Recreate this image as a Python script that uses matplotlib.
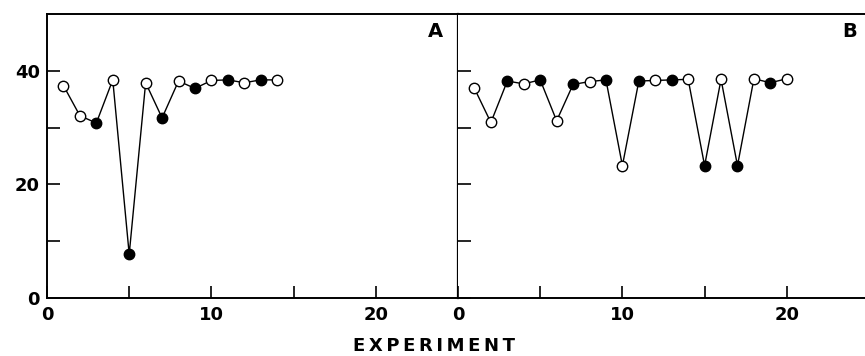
import numpy as np
import matplotlib.pyplot as plt

plt.rcParams['font.family'] = ['DejaVu Sans']
plt.rcParams['font.weight'] = 'bold'

# panel A
expA = np.arange(1, 15)
valA = [37.4, 32.1, 30.8, 38.4, 7.7, 37.9, 31.7, 38.2, 36.9, 38.3, 38.4, 37.9, 38.4, 38.4]
fillA = [0, 0, 1, 0, 1, 0, 1, 0, 1, 0, 1, 0, 1, 0]

# panel B
expB = np.arange(1, 21)
valB = [36.9, 30.9, 38.2, 37.7, 38.4, 31.2, 37.6, 38.1, 38.4, 23.3,
        38.2, 38.3, 38.4, 38.5, 23.3, 38.5, 23.3, 38.6, 37.9, 38.6]
fillB = [0, 0, 1, 0, 1, 0, 1, 0, 1, 0, 1, 0, 1, 0, 1, 0, 1, 0, 1, 0]

W, H = 865, 356
fig = plt.figure(figsize=(W / 100, H / 100), dpi=100)
axA = fig.add_axes([47 / W, 1 - 298 / H, 411 / W, 284 / H])
axB = fig.add_axes([458 / W, 1 - 298 / H, 411 / W, 284 / H])

def draw(ax, x, y, filled, letter, lx):
    ax.plot(x, y, color='black', lw=1.0, zorder=1)
    x = np.asarray(x)
    y = np.asarray(y)
    f = np.asarray(filled) == 1
    ax.plot(x[~f], y[~f], 'o', ms=7.5, mfc='white', mec='black', mew=1.0, zorder=2)
    ax.plot(x[f], y[f], 'o', ms=7.5, mfc='black', mec='black', mew=1.0, zorder=2)
    ax.set_xlim(0, 25)
    ax.set_ylim(0, 50)
    ax.set_xticks([0, 5, 10, 15, 20])
    ax.set_xticklabels(['0', '', '10', '', '20'])
    ax.set_yticks([0, 10, 20, 30, 40])
    ax.tick_params(direction='in', length=9, width=1.2, labelsize=13)
    ax.tick_params(axis='x', pad=6)
    for s in ax.spines.values():
        s.set_linewidth(1.4)
    ax.text(lx, 0.94, letter, transform=ax.transAxes, fontsize=14,
            fontweight='bold', ha='center', va='center')

draw(axA, expA, valA, fillA, 'A', 0.944)
axA.set_yticklabels(['0', '', '20', '', '40'])
axA.tick_params(axis='y', pad=5)
axA.spines['right'].set_linewidth(1.6)

draw(axB, expB, valB, fillB, 'B', 0.954)
axB.set_yticklabels([])
axB.spines['left'].set_visible(False)
axB.spines['right'].set_visible(False)

fig.text(434 / W, 1 - 346 / H, '\u2009'.join('EXPERIMENT'),
         fontsize=13, fontweight='bold', ha='center', va='center')

fig.savefig('out.png', dpi=100)
